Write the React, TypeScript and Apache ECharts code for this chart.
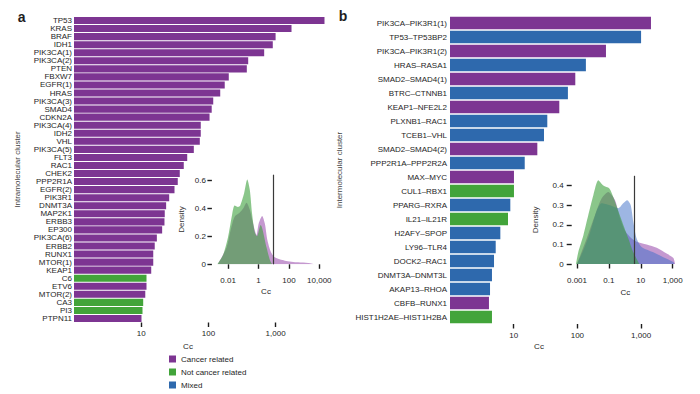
import React, { useEffect, useRef } from 'react';
import * as echarts from 'echarts';

// ---------- data ----------
const intraGenes = ['TP53', 'KRAS', 'BRAF', 'IDH1', 'PIK3CA(1)', 'PIK3CA(2)', 'PTEN', 'FBXW7', 'EGFR(1)', 'HRAS',
  'PIK3CA(3)', 'SMAD4', 'CDKN2A', 'PIK3CA(4)', 'IDH2', 'VHL', 'PIK3CA(5)', 'FLT3', 'RAC1', 'CHEK2',
  'PPP2R1A', 'EGFR(2)', 'PIK3R1', 'DNMT3A', 'MAP2K1', 'ERBB3', 'EP300', 'PIK3CA(6)', 'ERBB2', 'RUNX1',
  'MTOR(1)', 'KEAP1', 'C6', 'ETV6', 'MTOR(2)', 'CA3', 'PI3', 'PTPN11'];
const intraCc = [5340, 1725, 1000, 908, 676, 391, 373, 201, 175, 150,
  118, 112, 104, 77, 77, 74.5, 60.7, 48.4, 43, 37.5,
  35, 31.3, 26.1, 23.5, 22.4, 22.2, 20.5, 17.1, 15.9, 15.1,
  15.1, 14.1, 12.0, 12.0, 11.5, 10.7, 10.45, 10.1];
const intraClass = ['C', 'C', 'C', 'C', 'C', 'C', 'C', 'C', 'C', 'C',
  'C', 'C', 'C', 'C', 'C', 'C', 'C', 'C', 'C', 'C',
  'C', 'C', 'C', 'C', 'C', 'C', 'C', 'C', 'C', 'C',
  'C', 'C', 'N', 'C', 'C', 'N', 'N', 'C'];

const interPairs = ['PIK3CA\u2013PIK3R1(1)', 'TP53\u2013TP53BP2', 'PIK3CA\u2013PIK3R1(2)', 'HRAS\u2013RASA1',
  'SMAD2\u2013SMAD4(1)', 'BTRC\u2013CTNNB1', 'KEAP1\u2013NFE2L2', 'PLXNB1\u2013RAC1', 'TCEB1\u2013VHL',
  'SMAD2\u2013SMAD4(2)', 'PPP2R1A\u2013PPP2R2A', 'MAX\u2013MYC', 'CUL1\u2013RBX1', 'PPARG\u2013RXRA',
  'IL21\u2013IL21R', 'H2AFY\u2013SPOP', 'LY96\u2013TLR4', 'DOCK2\u2013RAC1', 'DNMT3A\u2013DNMT3L',
  'AKAP13\u2013RHOA', 'CBFB\u2013RUNX1', 'HIST1H2AE\u2013HIST1H2BA'];
const interCc = [1430, 1000, 281, 136, 92.7, 71, 52, 33.7, 29.9, 23.5, 14.9, 10.1, 10.1, 8.85, 8.14,
  6.17, 5.22, 4.91, 4.56, 4.25, 4.09, 4.56];
const interClass = ['C', 'M', 'C', 'M', 'C', 'M', 'C', 'M', 'M', 'C', 'M', 'C', 'N', 'M', 'N',
  'M', 'M', 'M', 'M', 'M', 'C', 'N'];

const classNames: Record<string, string> = { C: 'Cancer related', N: 'Not cancer related', M: 'Mixed' };
const legendNames = ['Cancer related', 'Not cancer related', 'Mixed'];

const barTicks = [10, 100, 1000];
const insetATicks = [0.01, 1, 100, 10000];
const insetBTicks = [0.001, 0.1, 10, 1000];
const insetADensTicks = [0, 0.2, 0.4, 0.6];
const insetBDensTicks = [0, 0.1, 0.2, 0.3, 0.4];
const thresholdA = 10;
const thresholdB = 4;

// inset a densities
const aCancerCc = [0.00209, 0.00794, 0.0151, 0.0269, 0.0589, 0.1, 0.162, 0.269, 0.447, 0.741, 1.02, 1.74, 2.63, 3.89, 6.46, 11.7, 53.7, 407, 1862, 5130];
const aCancerDen = [0, 0.12, 0.25, 0.34, 0.37, 0.40, 0.44, 0.39, 0.29, 0.21, 0.29, 0.345, 0.29, 0.17, 0.09, 0.05, 0.026, 0.014, 0.01, 0];
const aNotCc = [0.00195, 0.00468, 0.01, 0.0186, 0.0269, 0.0447, 0.063, 0.112, 0.182, 0.269, 0.38, 0.562, 0.794, 1.38, 3.39, 5.62, 7.94];
const aNotDen = [0, 0.066, 0.197, 0.36, 0.42, 0.41, 0.42, 0.505, 0.605, 0.53, 0.36, 0.23, 0.2, 0.28, 0.12, 0.03, 0];

// inset b densities
const bCancerCc = [0.001, 0.00407, 0.0135, 0.0355, 0.0912, 0.24, 0.501, 1.02, 2.69, 5.5, 23.4, 100, 417, 1096, 1413];
const bCancerDen = [0, 0.13, 0.25, 0.335, 0.367, 0.326, 0.233, 0.17, 0.13, 0.114, 0.1, 0.083, 0.053, 0.031, 0];
const bMixedCc = [0.001, 0.00251, 0.0066, 0.017, 0.0347, 0.117, 0.389, 0.794, 1.41, 2.34, 3.39, 5.5, 11.2, 60.3, 257, 1096, 1259];
const bMixedDen = [0, 0.07, 0.16, 0.27, 0.31, 0.30, 0.285, 0.31, 0.325, 0.30, 0.215, 0.13, 0.087, 0.06, 0.035, 0.01, 0];
const bNotCc = [0.00087, 0.0012, 0.00251, 0.00513, 0.0105, 0.0219, 0.0447, 0.107, 0.191, 0.389, 0.794, 1.66, 3.39, 6.92, 7.94];
const bNotDen = [0, 0.06, 0.146, 0.25, 0.35, 0.427, 0.40, 0.385, 0.34, 0.27, 0.2, 0.13, 0.06, 0.01, 0];

// ---------- styles ----------
const FONT = '"Liberation Sans", Arial, Helvetica, sans-serif';
const TXT = '#1e1e1e';
const barColors: Record<string, string> = {
  'Cancer related': '#7d3592',
  'Not cancer related': '#42a43a',
  'Mixed': '#2e69ad',
};
const densColors: Record<string, string> = {
  'Cancer related': 'rgba(150, 70, 170, 0.55)',
  'Not cancer related': 'rgba(60, 160, 60, 0.6)',
  'Mixed': 'rgba(60, 110, 200, 0.5)',
};

const fmtNum = (v: number) => {
  const n = Number(Number(v).toPrecision(6));
  return n.toLocaleString('en-US', { maximumFractionDigits: 4 });
};

function barSeries(vals: number[], cls: string[], idx: number, gap: string) {
  const present = legendNames.filter((name) => cls.some((c) => classNames[c] === name));
  return present.map((name) => ({
    type: 'bar',
    name,
    xAxisIndex: idx,
    yAxisIndex: idx,
    data: vals.map((v, i) => (classNames[cls[i]] === name ? v : '-')),
    barGap: '-100%',
    barCategoryGap: gap,
    itemStyle: { color: barColors[name] },
    silent: true,
  }));
}

function densSeries(id: string, cc: number[], den: number[], cls: string, idx: number, z: number, mark?: number) {
  const s: any = {
    type: 'line',
    name: id,
    xAxisIndex: idx,
    yAxisIndex: idx,
    data: cc.map((x, i) => [x, den[i]]),
    smooth: 0.25,
    symbol: 'none',
    lineStyle: { width: 0 },
    areaStyle: { color: densColors[cls], opacity: 1 },
    silent: true,
    z,
  };
  if (mark !== undefined) {
    s.markLine = {
      silent: true,
      symbol: ['none', 'none'],
      label: { show: false },
      lineStyle: { color: '#3a3a3a', width: 1.2, type: 'solid' },
      data: [{ xAxis: mark }],
    };
  }
  return s;
}

function logBarAxis(grid: number, max: number) {
  return {
    gridIndex: grid,
    type: 'log',
    logBase: 10,
    min: 1,
    max,
    axisLine: { show: false },
    splitLine: { show: false },
    minorTick: { show: false },
    axisTick: { show: true, length: 4.5, customValues: barTicks, lineStyle: { color: TXT, width: 1.4 } },
    axisLabel: { customValues: barTicks, formatter: fmtNum, fontSize: 8, color: TXT, margin: 7, fontFamily: FONT },
  };
}

function insetXAxis(grid: number, min: number, max: number, ticks: number[]) {
  return {
    gridIndex: grid,
    type: 'log',
    logBase: 10,
    min,
    max,
    offset: 4,
    axisLine: { show: false },
    splitLine: { show: false },
    minorTick: { show: false },
    axisTick: { show: true, length: 4.5, customValues: ticks, lineStyle: { color: TXT, width: 1.4 } },
    axisLabel: { customValues: ticks, formatter: fmtNum, fontSize: 8, color: TXT, margin: 8, fontFamily: FONT },
  };
}

function insetYAxis(grid: number, max: number, ticks: number[], offset: number, tickLen: number, margin: number, nameGap: number) {
  return {
    gridIndex: grid,
    type: 'value',
    min: 0,
    max,
    offset,
    axisLine: { show: false },
    splitLine: { show: false },
    axisTick: { show: true, length: tickLen, customValues: ticks, lineStyle: { color: TXT, width: 1.4 } },
    axisLabel: {
      customValues: ticks,
      formatter: (v: number) => String(Number(Number(v).toFixed(2))),
      fontSize: 8, color: TXT, margin, fontFamily: FONT,
    },
    name: 'Density',
    nameLocation: 'middle',
    nameGap,
    nameTextStyle: { fontSize: 8, color: '#333', fontFamily: FONT },
  };
}

function catAxis(grid: number, data: string[], margin: number, name: string, nameGap: number) {
  return {
    gridIndex: grid,
    type: 'category',
    data,
    inverse: true,
    axisLine: { show: false },
    axisTick: { show: false },
    splitLine: { show: false },
    axisLabel: { interval: 0, fontSize: 8, color: TXT, margin, fontFamily: FONT },
    name,
    nameLocation: 'middle',
    nameGap,
    nameTextStyle: { fontSize: 8, color: '#444', fontFamily: FONT },
  };
}

function txt(text: string, x: number, y: number, font: string) {
  return {
    type: 'text',
    x,
    y,
    silent: true,
    style: { text, font, fill: TXT, textAlign: 'center', textVerticalAlign: 'middle' },
  };
}

export default function App() {
  const ref = useRef<HTMLDivElement>(null);

  useEffect(() => {
    if (!ref.current) return;
    const chart = echarts.init(ref.current, null, { renderer: 'svg' });
    const option: any = {
      animation: false,
      backgroundColor: '#ffffff',
      textStyle: { fontFamily: FONT },
      grid: [
        { left: 74, top: 16.5, width: 268.8, height: 306, outerBoundsMode: 'none' },
        { left: 450, top: 16, width: 235.6, height: 308, outerBoundsMode: 'none' },
        { left: 212.9, top: 174.7, width: 106.4, height: 89.6, outerBoundsMode: 'none' },
        { left: 574.5, top: 175.8, width: 101.4, height: 88.2, outerBoundsMode: 'none' },
      ],
      xAxis: [
        logBarAxis(0, 10000),
        logBarAxis(1, 5000),
        insetXAxis(2, 0.001, 10000, insetATicks),
        insetXAxis(3, 0.0007, 1585, insetBTicks),
      ],
      yAxis: [
        catAxis(0, intraGenes, 2, 'Intramolecular cluster', 53),
        catAxis(1, interPairs, 3, 'Intermolecular cluster', 107),
        insetYAxis(2, 0.64, insetADensTicks, 1, 4.5, 6, 26),
        insetYAxis(3, 0.45, insetBDensTicks, 2.8, 5, 8, 32),
      ],
      legend: {
        data: legendNames,
        orient: 'vertical',
        left: 169,
        top: 355,
        padding: 0,
        itemGap: 5,
        itemWidth: 7,
        itemHeight: 7,
        icon: 'rect',
        selectedMode: false,
        textStyle: { fontSize: 8, color: TXT, fontFamily: FONT, lineHeight: 8 },
      },
      series: [
        ...barSeries(intraCc, intraClass, 0, '12%'),
        ...barSeries(interCc, interClass, 1, '10%'),
        densSeries('a-cancer', aCancerCc, aCancerDen, 'Cancer related', 2, 2),
        densSeries('a-not', aNotCc, aNotDen, 'Not cancer related', 2, 3, thresholdA),
        densSeries('b-cancer', bCancerCc, bCancerDen, 'Cancer related', 3, 2),
        densSeries('b-mixed', bMixedCc, bMixedDen, 'Mixed', 3, 3),
        densSeries('b-not', bNotCc, bNotDen, 'Not cancer related', 3, 4, thresholdB),
      ],
      graphic: [
        txt('a', 21.7, 16.5, `bold 14px ${FONT}`),
        txt('b', 343, 16, `bold 14px ${FONT}`),
        txt('Cc', 188, 346, `8px ${FONT}`),
        txt('Cc', 539, 346.5, `8px ${FONT}`),
        txt('Cc', 266, 291.7, `8px ${FONT}`),
        txt('Cc', 625.3, 292.3, `8px ${FONT}`),
      ],
    };
    chart.setOption(option);
    return () => chart.dispose();
  }, []);

  return (
    <div
      ref={ref}
      style={{ position: 'fixed', left: 0, top: 0, width: 700, height: 394, background: '#fff' }}
    />
  );
}
